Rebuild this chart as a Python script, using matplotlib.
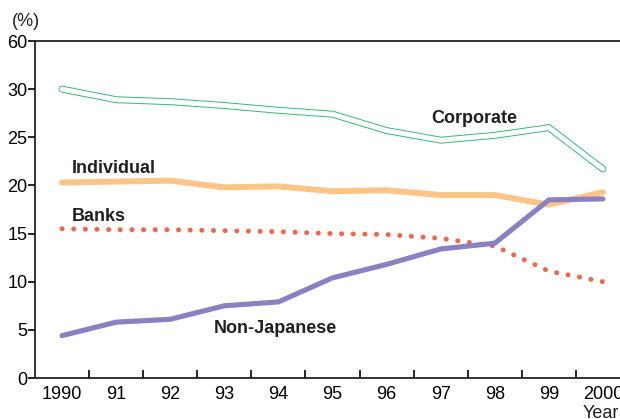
import matplotlib
matplotlib.use("Agg")
import matplotlib.pyplot as plt

years = [1990, 1991, 1992, 1993, 1994, 1995, 1996, 1997, 1998, 1999, 2000]
tick_labels = ["1990", "91", "92", "93", "94", "95", "96", "97", "98", "99", "2000"]
corporate = [30.0, 28.9, 28.7, 28.3, 27.8, 27.4, 25.7, 24.7, 25.2, 26.0, 21.7]
individual = [20.3, 20.4, 20.5, 19.8, 19.9, 19.4, 19.5, 19.0, 19.0, 18.0, 19.3]
banks = [15.5, 15.4, 15.4, 15.3, 15.2, 15.0, 14.9, 14.5, 13.7, 11.1, 10.0]
non_japanese = [4.4, 5.8, 6.1, 7.5, 7.9, 10.4, 11.8, 13.4, 14.0, 18.5, 18.6]
ytick_vals = [0, 5, 10, 15, 20, 25, 30, 35]
ytick_labels = ["0", "5", "10", "15", "20", "25", "30", "60"]

plt.rcParams['font.family'] = ['Liberation Sans', 'DejaVu Sans']

W, H = 620, 419
fig = plt.figure(figsize=(W / 100, H / 100), dpi=100)
ax = fig.add_axes([35 / W, 41 / H, 595 / W, 337 / H])

green = "#34b877"
orange = "#fdc487"
purple = "#8a81c2"
red = "#f1654b"

ax.plot(years, corporate, color=green, lw=5.0, solid_joinstyle="miter", solid_capstyle="round", zorder=2)
ax.plot(years, corporate, color="white", lw=3.6, solid_joinstyle="miter", solid_capstyle="round", zorder=2.1)
ax.plot(years, individual, color=orange, lw=4.3, solid_capstyle="round", zorder=3)
ax.plot(years, banks, color=red, lw=3.6, linestyle=(0, (0.01, 2.32)), dash_capstyle="round", zorder=3.5)
ax.plot(years, non_japanese, color=purple, lw=3.7, solid_capstyle="round", zorder=4)

ax.set_xlim(1989.5, 2000.5)
ax.set_ylim(0, 35)

ax.set_xticks(years)
ax.set_xticklabels(tick_labels, fontsize=13)
ax.tick_params(axis="x", which="major", length=0, pad=6)
ax.set_xticks([y + 0.5 for y in years[:-1]], minor=True)
ax.tick_params(axis="x", which="minor", direction="in", length=6, width=1.2)

ax.set_yticks(ytick_vals)
ax.set_yticklabels(ytick_labels, fontsize=13)
ax.tick_params(axis="y", direction="out", length=5, width=1.2, pad=0.5)

for s in ["left", "bottom", "top", "right"]:
    ax.spines[s].set_linewidth(1.3)
    ax.spines[s].set_color("#222222")

lab = dict(fontsize=13, fontweight="bold", color="#231f20")
ax.text(1996.82, 27.0, "Corporate", ha="left", va="center", **lab)
ax.text(1990.18, 21.8, "Individual", ha="left", va="center", **lab)
ax.text(1990.18, 16.8, "Banks", ha="left", va="center", **lab)
ax.text(1992.8, 5.1, "Non-Japanese", ha="left", va="center", **lab)

fig.text(12 / W, 1 - 21 / H, "(%)", fontsize=13, ha="left", va="center", color="#231f20")
fig.text(583 / W, 1 - 413 / H, "Year", fontsize=13, ha="left", va="center", color="#231f20")

fig.savefig("out.png", dpi=100)
